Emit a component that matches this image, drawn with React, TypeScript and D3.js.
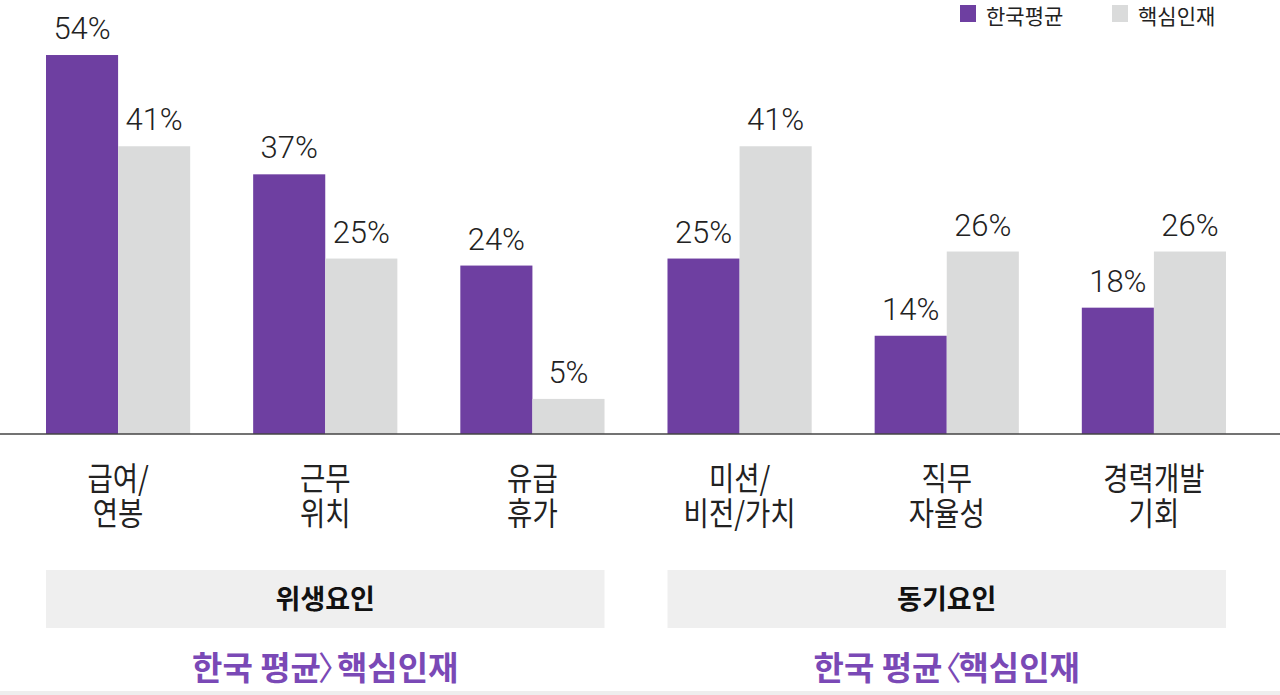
import * as d3 from "d3";

const categories = ["급여/\n연봉", "근무\n위치", "유급\n휴가", "미션/\n비전/가치", "직무\n자율성", "경력개발\n기회"];
const koreaAvg = [54, 37, 24, 25, 14, 18];
const corePeople = [41, 25, 5, 41, 26, 26];
const seriesNames = ["한국평균", "핵심인재"];
const groups = [
  { label: "위생요인", note: ["한국 평균", "〉", "핵심인재"], from: 0, to: 2 },
  { label: "동기요인", note: ["한국 평균", "〈", "핵심인재"], from: 3, to: 5 },
];

const PURPLE = "#6e3fa1";
const GRAY = "#dadbdb";
const NOTE = "#7a49b6";
const W = 1280;
const H = 695;
const KR = "'Noto Sans CJK KR', 'Noto Sans', sans-serif";

export default function App() {
  const baseline = 434;

  const x = d3
    .scaleBand<number>()
    .domain(d3.range(categories.length))
    .range([46, 1226])
    .paddingInner(0.304)
    .paddingOuter(0);

  const inner = d3
    .scaleBand<number>()
    .domain([0, 1])
    .range([0, x.bandwidth()]);

  const y = d3.scaleLinear().domain([0, 55]).range([baseline, 48]);

  const series = [koreaAvg, corePeople];
  const colors = [PURPLE, GRAY];

  return (
    <svg
      width={W}
      height={H}
      style={{ position: "absolute", left: 0, top: 0, background: "#fff" }}
    >
      {/* bars + value labels */}
      {series.map((vals, s) =>
        vals.map((v, i) => {
          const bx = (x(i) ?? 0) + (inner(s) ?? 0);
          const bw = inner.bandwidth();
          return (
            <g key={`${s}-${i}`}>
              <rect
                x={bx}
                y={y(v)}
                width={bw}
                height={baseline - y(v)}
                fill={colors[s]}
              />
              <text
                x={bx + bw / 2}
                y={y(v) - 16}
                textAnchor="middle"
                fontFamily="Roboto, sans-serif"
                fontWeight={300}
                fontSize={31}
                fill="#222"
              >
                {v}%
              </text>
            </g>
          );
        }),
      )}

      {/* axis line */}
      <line x1={0} x2={W} y1={baseline} y2={baseline} stroke="#444" strokeWidth={1.5} />

      {/* category labels */}
      {categories.map((c, i) => {
        const cx = (x(i) ?? 0) + x.bandwidth() / 2;
        return (
          <g key={c} transform={`translate(${cx},0) scale(0.86,1)`}>
            <text
              y={490}
              textAnchor="middle"
              fontFamily={KR}
              fontSize={32}
              fill="#222"
            >
              {c.split("\n").map((line, k) => (
                <tspan key={k} x={0} dy={k === 0 ? 0 : 35}>
                  {line}
                </tspan>
              ))}
            </text>
          </g>
        );
      })}

      {/* group boxes */}
      {groups.map((g) => {
        const gx0 = x(g.from) ?? 0;
        const gx1 = (x(g.to) ?? 0) + x.bandwidth();
        const mid = (gx0 + gx1) / 2;
        const closing = g.note[1] === "〉";
        return (
          <g key={g.label}>
            <rect x={gx0} y={570} width={gx1 - gx0} height={58} fill="#efefef" />
            <text
              x={mid}
              y={609}
              textAnchor="middle"
              fontFamily={KR}
              fontWeight={700}
              fontSize={27}
              fill="#111"
            >
              {g.label}
            </text>
            <text
              x={mid}
              y={680}
              textAnchor="middle"
              fontFamily={KR}
              fontWeight={700}
              fontSize={33}
              fill={NOTE}
            >
              {g.note[0]}
              <tspan dx={closing ? -3 : -14} fontWeight={400}>
                {g.note[1]}
              </tspan>
              <tspan dx={closing ? -14 : -3}>{g.note[2]}</tspan>
            </text>
          </g>
        );
      })}

      {/* legend */}
      {seriesNames.map((n, s) => {
        const lx = 960 + s * 152;
        return (
          <g key={n}>
            <rect x={lx} y={5} width={16} height={17} fill={colors[s]} />
            <text
              x={lx + 26}
              y={24}
              fontFamily={KR}
              fontSize={21}
              fill="#222"
            >
              {n}
            </text>
          </g>
        );
      })}

      {/* bottom edge */}
      <rect x={0} y={691} width={W} height={4} fill="#eeeeee" />
    </svg>
  );
}
